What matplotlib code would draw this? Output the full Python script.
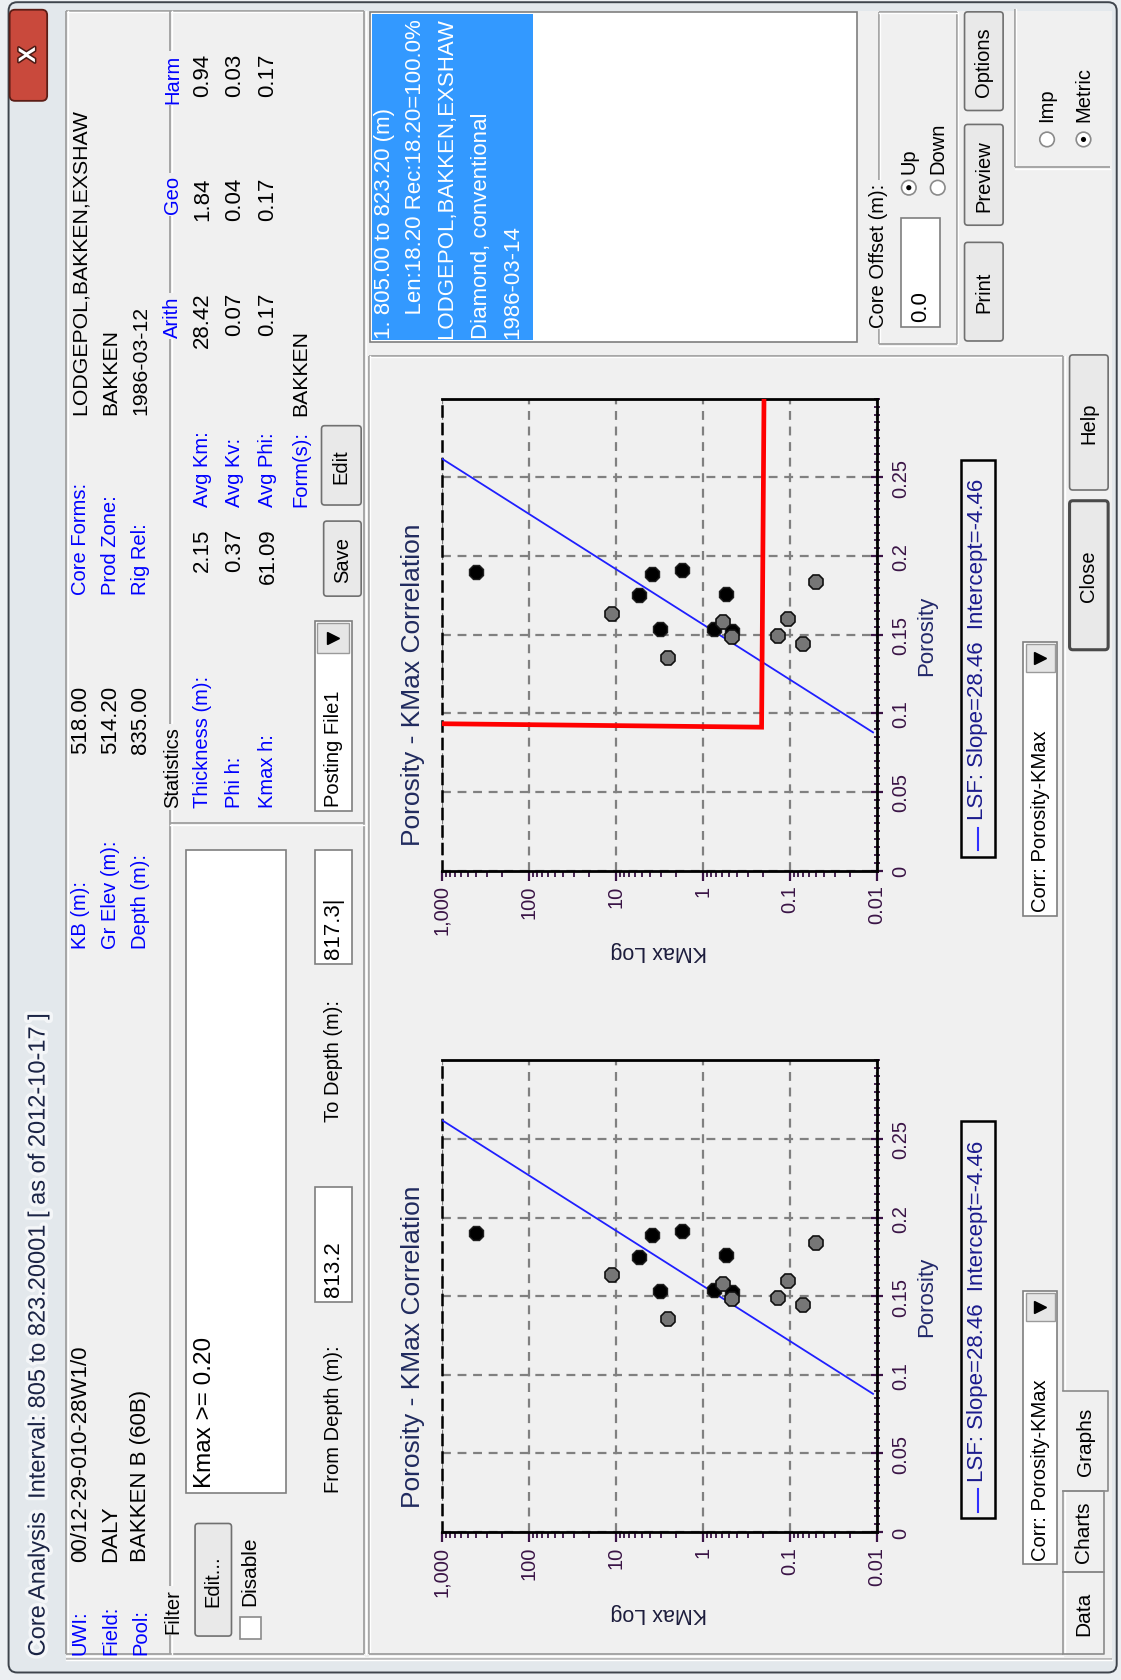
import numpy as np
import matplotlib.pyplot as plt
import matplotlib.patheffects as pe
from matplotlib.patches import Rectangle, FancyBboxPatch, Circle
from matplotlib.ticker import FixedLocator, LogLocator, MultipleLocator, NullFormatter

# reference layout units (the screenshot is a rotated dialog, 1046 x 1568 grid)
W_REF, H_REF = 1046, 1568
BG = "#f0f0f0"
BLUE = "#0000ff"
ETCH = "#a0a0a0"
TICK_COLOR = "#3a1446"
UI_SIZE = 14.5
VALUE_SIZE = 16

# ---- chart data ----
KMAX_TICKS = [1000, 100, 10, 1, 0.1, 0.01]
KMAX_TICK_LABELS = ["1,000", "100", "10", "1", "0.1", "0.01"]
POROSITY_TICKS = [0, 0.05, 0.1, 0.15, 0.2, 0.25]
POROSITY_TICK_LABELS = ["0", "0.05", "0.1", "0.15", "0.2", "0.25"]

black_kmax = [403, 3.86, 1.73, 5.35, 0.54, 3.09, 0.736, 0.464]
black_porosity = [0.190, 0.1887, 0.1914, 0.1751, 0.176, 0.1534, 0.1537, 0.1526]
grey_kmax = [11.1, 2.52, 0.579, 0.464, 0.137, 0.105, 0.071, 0.0498]
grey_porosity = [0.1633, 0.1355, 0.158, 0.1484, 0.1489, 0.1597, 0.1443, 0.1837]

LSF_SLOPE = 28.46
LSF_INTERCEPT = -4.46
lsf_kmax_range = [1000, 0.011]

cutoff_kmax = [1000, 0.21, 0.197]
cutoff_porosity = [0.0934, 0.0912, 0.30]

# ---- dialog text ----
TITLE = "Core Analysis  Interval: 805 to 823.20001 [ as of 2012-10-17 ]"
WELL_LABELS = ["UWI:", "Field:", "Pool:"]
WELL_VALUES = ["00/12-29-010-28W1/0", "DALY", "BAKKEN B (60B)"]
ELEV_LABELS = ["KB (m):", "Gr Elev (m):", "Depth (m):"]
ELEV_VALUES = ["518.00", "514.20", "835.00"]
CORE_LABELS = ["Core Forms:", "Prod Zone:", "Rig Rel:"]
CORE_VALUES = ["LODGEPOL,BAKKEN,EXSHAW", "BAKKEN", "1986-03-12"]
STAT_LABELS = ["Thickness (m):", "Phi h:", "Kmax h:"]
STAT_VALUES = ["2.15", "0.37", "61.09"]
AVG_HEADERS = ["Arith", "Geo", "Harm"]
AVG_LABELS = ["Avg Km:", "Avg Kv:", "Avg Phi:"]
AVG_ARITH = ["28.42", "0.07", "0.17"]
AVG_GEO = ["1.84", "0.04", "0.17"]
AVG_HARM = ["0.94", "0.03", "0.17"]
CORE_LIST = [
    "1. 805.00 to 823.20 (m)",
    "    Len:18.20 Rec:18.20=100.0%",
    "LODGEPOL,BAKKEN,EXSHAW",
    "Diamond, conventional",
    "1986-03-14",
]
TABS = ["Data", "Charts", "Graphs"]

plt.rcParams["font.family"] = ["Liberation Sans", "DejaVu Sans"]

fig = plt.figure(figsize=(11.21, 16.81), dpi=100, facecolor="#eceff2")
ui = fig.add_axes([0, 0, 1, 1], zorder=0)
ui.set_xlim(0, W_REF)
ui.set_ylim(H_REF, 0)
ui.axis("off")


def box(x0, y0, x1, y1, face=BG, edge="none", lw=1.0, z=1):
    ui.add_patch(Rectangle((x0, y0), x1 - x0, y1 - y0, facecolor=face,
                           edgecolor=edge, linewidth=lw, zorder=z))


def hline(y, x0, x1, color=ETCH, lw=1.3, z=2):
    ui.plot([x0, x1], [y, y], color=color, lw=lw, zorder=z, solid_capstyle="butt")
    ui.plot([x0, x1], [y + 1.3, y + 1.3], color="white", lw=1.0, zorder=z)


def vline(x, y0, y1, color=ETCH, lw=1.3, z=2):
    ui.plot([x, x], [y0, y1], color=color, lw=lw, zorder=z, solid_capstyle="butt")
    ui.plot([x + 1.3, x + 1.3], [y0, y1], color="white", lw=1.0, zorder=z)


def vtext(x, y, s, anchor="start", size=UI_SIZE, color="black", bg=None, z=5, **kw):
    va = {"start": "bottom", "end": "top", "center": "center"}[anchor]
    bbox = None
    if bg is not None:
        bbox = dict(boxstyle="square,pad=0.12", facecolor=bg, edgecolor="none")
    return ui.text(x, y, s, rotation=90, ha="center", va=va, fontsize=size,
                   color=color, bbox=bbox, zorder=z, **kw)


def button(x0, y0, x1, y1, label, size=UI_SIZE, strong=False):
    ui.add_patch(FancyBboxPatch((x0, y0), x1 - x0, y1 - y0,
                                boxstyle="round,pad=0,rounding_size=3",
                                facecolor="#e9e9e9",
                                edgecolor="#4a4a4a" if strong else "#707070",
                                lw=2.2 if strong else 1.2, zorder=3))
    vtext((x0 + x1) / 2, (y0 + y1) / 2, label, anchor="center", size=size)


def textbox(x0, y0, x1, y1, z=3):
    box(x0, y0, x1, y1, face="white", edge="#7f7f7f", lw=1.2, z=z)


def dropdown(x0, y0, x1, y1, label, arrow_len=30, size=UI_SIZE):
    textbox(x0, y0, x1, y1)
    box(x0 + 2, y0 + 2, x1 - 2, y0 + arrow_len, face="#e6e6e6", edge="#9a9a9a", lw=1.0, z=4)
    ui.plot((x0 + x1) / 2, y0 + arrow_len / 2 + 1, marker=">", ms=8, color="black", zorder=5)
    vtext((x0 + x1) / 2, y1 - 4, label, size=size)


def radio(x, y, checked):
    ui.add_patch(Circle((x, y), 6.8, facecolor="white", edgecolor="#8a8a8a", lw=1.2, zorder=3))
    if checked:
        ui.add_patch(Circle((x, y), 2.4, facecolor="black", edgecolor="none", zorder=4))


# ---- window chrome ----
ui.add_patch(FancyBboxPatch((8, 3), 1034, 1558, boxstyle="round,pad=0,rounding_size=8",
                            facecolor="#e3e8ec", edgecolor="#3e444c", lw=1.4, zorder=0.2))
box(62, 11, 1038, 1548, face=BG, z=0.5)
hline(1548, 62, 1038, color="#b5b5b5")
ui.add_patch(FancyBboxPatch((9, 10), 35, 85, boxstyle="round,pad=0,rounding_size=5",
                            facecolor="#c9493c", edgecolor="#5b1d16", lw=1.3, zorder=3))
ui.text(26.5, 52, "X", rotation=90, ha="center", va="center", fontsize=17,
        fontweight="bold", color="white", zorder=4,
        path_effects=[pe.withStroke(linewidth=2.2, foreground="#4a1a14")])
vtext(36, 1546, TITLE, size=17, color="#1b2445",
      path_effects=[pe.withStroke(linewidth=5, foreground="#f4f6f8")])

# ---- info panel ----
hline(11, 62, 340)
vline(62, 11, 1544)
vline(340, 11, 1544)
hline(1544, 62, 340)
vline(159, 11, 1544)
hline(769, 159, 340)

rows = [75, 103, 131]
for x, lab, val in zip(rows, WELL_LABELS, WELL_VALUES):
    vtext(x, 1544, lab, color=BLUE)
    vtext(x, 1457, val, size=VALUE_SIZE)
for x, lab, val in zip(rows, ELEV_LABELS, ELEV_VALUES):
    vtext(x, 885, lab, color=BLUE)
    vtext(x, 640, val, anchor="end", size=VALUE_SIZE)
for x, lab, val in zip(rows, CORE_LABELS, CORE_VALUES):
    vtext(x, 555, lab, color=BLUE)
    vtext(x, 387, val, size=15.3)

vtext(161, 754, "Statistics", bg=BG)
vtext(161, 1524, "Filter", bg=BG)
for y, head in zip([315, 200, 97], AVG_HEADERS):
    vtext(161, y, head, color=BLUE, bg=BG)

stat_rows = [189, 219, 250]
for x, lab, val in zip(stat_rows, STAT_LABELS, STAT_VALUES):
    vtext(x, 754, lab, color=BLUE)
    vtext(x, 493, val, anchor="end", size=VALUE_SIZE)
for i, x in enumerate(stat_rows):
    vtext(x, 473, AVG_LABELS[i], color=BLUE)
    vtext(x, 273, AVG_ARITH[i], anchor="end", size=VALUE_SIZE)
    vtext(x, 166, AVG_GEO[i], anchor="end", size=VALUE_SIZE)
    vtext(x, 50, AVG_HARM[i], anchor="end", size=VALUE_SIZE)
vtext(281, 473, "Form(s):", color=BLUE)
vtext(281, 388, "BAKKEN", size=15.3)

button(300, 398, 337, 472, "Edit")
button(302, 487, 337, 557, "Save")
dropdown(294, 580, 328, 757, "Posting File1")

textbox(174, 794, 267, 1394)
vtext(191, 1388, "Kmax >= 0.20", size=17.5)
button(182, 1422, 216, 1527, "Edit...")
box(224, 1509, 244, 1530, face="white", edge="#8a8a8a", lw=1.2, z=3)
vtext(233, 1498, "Disable", size=15)
vtext(311, 1393, "From Depth (m):")
textbox(294, 1108, 328, 1215)
vtext(311, 1210, "813.2", size=VALUE_SIZE)
vtext(311, 1047, "To Depth (m):")
textbox(294, 794, 328, 900)
vtext(311, 895, "817.3|", size=VALUE_SIZE)

# ---- top right: core list, offset, buttons ----
textbox(345, 12, 800, 320)
box(347, 14, 497, 318, face="#3399ff", z=3.5)
for x, line in zip([359, 388, 417, 449, 478], CORE_LIST):
    vtext(x, 316, line, size=16, color="white")

vline(820, 12, 322)
vline(893, 12, 322)
hline(12, 820, 893)
hline(322, 820, 893)
vtext(820, 306, "Core Offset (m):", bg=BG)
textbox(841, 204, 877, 306)
vtext(859, 300, "0.0", size=VALUE_SIZE)
radio(848, 176, True)
vtext(848, 162, "Up")
radio(875, 176, False)
vtext(875, 162, "Down")

button(900, 227, 936, 319, "Print")
button(900, 117, 936, 211, "Preview")
button(900, 12, 936, 104, "Options")

vline(947, 9, 157)
hline(157, 947, 1036)
radio(977, 131, False)
vtext(977, 114, "Imp")
radio(1011, 131, True)
vtext(1011, 114, "Metric")

button(998, 468, 1034, 607, "Close", strong=True)
button(998, 332, 1034, 458, "Help")

# ---- tab page ----
hline(333, 344, 992)
vline(344, 333, 1544)
hline(1544, 344, 992)
vline(992, 333, 1298)
vline(992, 1392, 1544)
for (y0, y1), tab in zip([(1467, 1544), (1392, 1467), (1298, 1392)], TABS):
    selected = tab == "Graphs"
    x1 = 1034 if selected else 1030
    ui.plot([992, x1, x1, 992], [y0, y0, y1, y1], color="#8a8a8a", lw=1.2, zorder=3)
    if selected:
        box(985, y0 + 1.5, x1 - 1, y1 - 1.5, face=BG, z=2.5)
    vtext((992 + x1) / 2, (y0 + y1) / 2, tab, anchor="center", size=15)


def draw_chart(top, corr_span, show_cutoff):
    height = 440
    rect = [412 / W_REF, 1 - (top + height) / H_REF, 406 / W_REF, height / H_REF]
    ax = fig.add_axes(rect, zorder=2)
    ax.set_facecolor(BG)
    ax.set_xscale("log")
    ax.set_xlim(1000, 0.01)
    ax.set_ylim(0, 0.3)

    ax.xaxis.set_major_locator(FixedLocator(KMAX_TICKS))
    ax.xaxis.set_minor_locator(LogLocator(base=10, subs=np.arange(2, 10)))
    ax.xaxis.set_minor_formatter(NullFormatter())
    ax.set_xticklabels(KMAX_TICK_LABELS, rotation=90)
    ax.yaxis.tick_right()
    ax.set_yticks(POROSITY_TICKS)
    ax.set_yticklabels(POROSITY_TICK_LABELS, rotation=90, va="center")
    ax.yaxis.set_minor_locator(MultipleLocator(0.005))

    ax.tick_params(axis="x", which="major", direction="out", length=7, width=1.6,
                   color=TICK_COLOR, labelcolor=TICK_COLOR, labelsize=14.5, pad=3)
    ax.tick_params(axis="x", which="minor", direction="out", length=4.5, width=1.3,
                   color=TICK_COLOR)
    ax.tick_params(axis="y", which="major", direction="inout", length=9, width=1.6,
                   color=TICK_COLOR, labelcolor=TICK_COLOR, labelsize=14.5, pad=6)
    ax.tick_params(axis="y", which="minor", direction="inout", length=5, width=1.3,
                   color=TICK_COLOR)

    ax.grid(True, which="major", color="#808080", linestyle=(0, (4, 3)), linewidth=1.6)
    for side in ["top", "right", "bottom"]:
        ax.spines[side].set_color("black")
        ax.spines[side].set_linewidth(2)
    ax.spines["left"].set_color("black")
    ax.spines["left"].set_linewidth(1.8)
    ax.spines["left"].set_linestyle((0, (4, 3)))

    lsf_k = np.array(lsf_kmax_range)
    lsf_por = (np.log10(lsf_k) - LSF_INTERCEPT) / LSF_SLOPE
    ax.plot(lsf_k, lsf_por, color="#1f1fff", lw=1.3, zorder=3)
    if show_cutoff:
        ax.plot(cutoff_kmax, cutoff_porosity, color="#ff0000", lw=3.4, zorder=4,
                solid_joinstyle="miter")
    ax.plot(black_kmax, black_porosity, linestyle="none", marker="8", ms=10.5,
            markerfacecolor="black", markeredgecolor="#202020", markeredgewidth=1, zorder=5)
    ax.plot(grey_kmax, grey_porosity, linestyle="none", marker="8", ms=10.5,
            markerfacecolor="#767676", markeredgecolor="#101010", markeredgewidth=1.2,
            zorder=6)

    vtext(385, top + 266, "Porosity - KMax Correlation", anchor="center", size=19,
          color="#202a5e")
    vtext(865, top + 220, "Porosity", anchor="center", size=16, color="#22286a")
    ui.text(615, top + 515, "KMax Log", rotation=180, ha="center", va="center",
            fontsize=15.5, color="#1c1c3c", zorder=5)

    # legend box
    box(897, top + 57, 928, top + 427, face=BG, edge="black", lw=1.8, z=3)
    ui.plot([912.5, 912.5], [top + 421, top + 400], color="#3030ff", lw=1.5, zorder=4)
    vtext(912.5, top + 392, f"LSF: Slope={LSF_SLOPE:.2f}  Intercept={LSF_INTERCEPT:.2f}",
          size=16, color="#1a1a8c")
    dropdown(955, corr_span[0], 986, corr_span[1], "Corr: Porosity-KMax", arrow_len=28)


draw_chart(373, (600, 855), True)
draw_chart(990, (1205, 1460), False)

fig.savefig("out.png", dpi=100, facecolor=fig.get_facecolor())
